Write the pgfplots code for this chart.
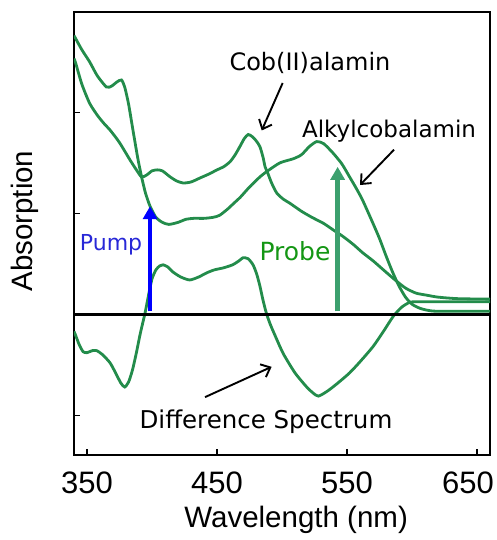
\documentclass[border=0pt]{standalone}
\usepackage{pgfplots}
\pgfplotsset{compat=1.18}
\usepackage{fontspec}
\setmainfont{Liberation Sans}
\newfontfamily\annot{DejaVu Sans}
\usetikzlibrary{arrows.meta}
\definecolor{cg}{RGB}{35,140,75}
\definecolor{probearrow}{RGB}{60,160,110}
\definecolor{probetext}{RGB}{20,150,20}
\definecolor{pumptext}{RGB}{40,40,215}

\pgfplotstableread{
x y
340 2.76
346 2.62
352 2.50
358 2.36
365 2.25
369 2.26
373 2.30
376.5 2.32
379 2.25
382 2.08
385.4 1.82
389 1.55
392 1.36
395 1.20
398.5 1.07
403 0.96
408 0.91
413 0.89
420 0.91
426 0.94
432 0.95
440 0.95
447 0.96
452 0.98
458 1.04
463 1.10
468 1.16
475 1.26
483 1.36
489 1.42
498.5 1.50
508.7 1.54
515 1.58
521 1.66
526.7 1.71
532 1.69
539 1.60
546 1.49
552 1.36
557 1.25
562 1.13
570 0.90
575 0.75
580 0.58
585 0.42
590 0.28
595 0.17
600 0.10
606 0.06
612 0.04
620 0.03
660 0.03
}\alkyl

\pgfplotstableread{
x y
340 2.53
341 2.50
346 2.28
352 2.09
358 1.97
363 1.89
368 1.82
375 1.70
383 1.53
388 1.43
392 1.36
396 1.38
400 1.42
404 1.43
408 1.42
414 1.36
419 1.32
424 1.30
430 1.31
437 1.35
444 1.39
450 1.43
455 1.46
460 1.51
464 1.58
468 1.67
471 1.74
474 1.78
477 1.76
480 1.72
483 1.66
485.5 1.55
487 1.46
489 1.40
492 1.30
496 1.20
501 1.14
506 1.10
515 1.02
523 0.96
532 0.90
540 0.83
547 0.77
555 0.69
562 0.61
570 0.53
578 0.44
587 0.34
595 0.26
603 0.21
611 0.19
620 0.17
635 0.155
660 0.15
}\cob

\pgfplotstableread{
x y
340 -0.17
341 -0.20
344 -0.30
347 -0.37
350 -0.38
354 -0.36
357.5 -0.36
362 -0.40
367.7 -0.48
372 -0.58
376 -0.68
379 -0.72
382 -0.67
385 -0.55
388 -0.38
391 -0.19
394.6 0.01
397.5 0.20
400 0.35
403 0.44
406 0.48
408.5 0.49
412 0.47
416 0.42
422 0.37
429 0.34
436 0.37
442 0.41
448 0.44
455 0.46
462 0.49
467 0.53
470 0.56
474 0.55
477.7 0.49
480.5 0.40
483 0.28
485.4 0.14
488 0.01
491 -0.10
495 -0.22
501 -0.39
510 -0.58
519 -0.72
524 -0.78
528 -0.81
535 -0.76
543 -0.68
552 -0.58
560 -0.47
570 -0.32
578 -0.17
585.6 -0.02
592 0.07
598.5 0.12
605 0.125
620 0.125
660 0.125
}\diff

\begin{document}
\begin{tikzpicture}
\begin{axis}[
  scale only axis,
  width=416pt, height=443pt,
  xmin=340, xmax=660,
  ymin=-1.393, ymax=2.993,
  axis line style={line width=2.5pt},
  xtick={350,450,550},
  extra x ticks={650},
  extra x tick style={xticklabel style={xshift=-9pt}},
  ytick={-1,0,1,2},
  yticklabels={},
  xtick pos=bottom, ytick pos=left,
  tick align=inside,
  major tick length=6pt,
  tick style={line width=1.5pt, black},
  /pgf/number format/assume math mode=true,
  xticklabel style={font=\fontsize{31}{36}\selectfont, yshift=-13pt},
  xlabel={Wavelength (nm)},
  ylabel={Absorption},
  xlabel style={font=\fontsize{29.5}{35}\selectfont, at={(axis description cs:0.534,0)}, anchor=center, yshift=-65pt},
  ylabel style={font=\fontsize{29.5}{35}\selectfont, at={(axis description cs:0,0.528)}, anchor=center, yshift=49pt},
  clip=true,
]
\addplot[cg, line width=2.8pt, smooth, tension=0.4] table {\alkyl};
\addplot[cg, line width=2.8pt, smooth, tension=0.4] table {\cob};
\addplot[cg, line width=2.8pt, smooth, tension=0.4] table {\diff};
\addplot[black, line width=3pt] coordinates {(340,0) (660,0)};
\addplot[blue, line width=4.7pt, -{Triangle[width=14pt,length=13pt]}] coordinates {(398.5,0.03) (398.5,1.07)};
\addplot[probearrow, line width=4.7pt, -{Triangle[width=14pt,length=13pt]}] coordinates {(542.8,0.03) (542.8,1.46)};

\node[font=\annot\fontsize{24}{28}\selectfont] at (axis cs:521.5,2.49) {Cob(II)alamin};
\node[font=\annot\fontsize{23}{27}\selectfont] at (axis cs:582.3,1.81) {Alkylcobalamin};
\node[font=\annot\fontsize{24.5}{28}\selectfont] at (axis cs:487.7,-1.06) {Difference Spectrum};
\node[font=\annot\fontsize{22}{26}\selectfont, text=pumptext] at (axis cs:368.5,0.69) {Pump};
\node[font=\annot\fontsize{25}{29}\selectfont, text=probetext] at (axis cs:510,0.62) {Probe};

\draw[black, line width=1.9pt, -{Straight Barb[length=8pt,width=14pt]}] (axis cs:500.5,2.29) -- (axis cs:484.4,1.82);
\draw[black, line width=1.9pt, -{Straight Barb[length=8pt,width=14pt]}] (axis cs:586.2,1.63) -- (axis cs:560,1.28);
\draw[black, line width=1.9pt, -{Straight Barb[length=8pt,width=14pt]}] (axis cs:440.8,-0.82) -- (axis cs:492,-0.52);
\end{axis}
\pgfresetboundingbox
\path[use as bounding box] (current axis.south west) ++(-74pt,-85pt) rectangle ([shift={(7pt,12pt)}]current axis.north east);
\end{tikzpicture}
\end{document}
